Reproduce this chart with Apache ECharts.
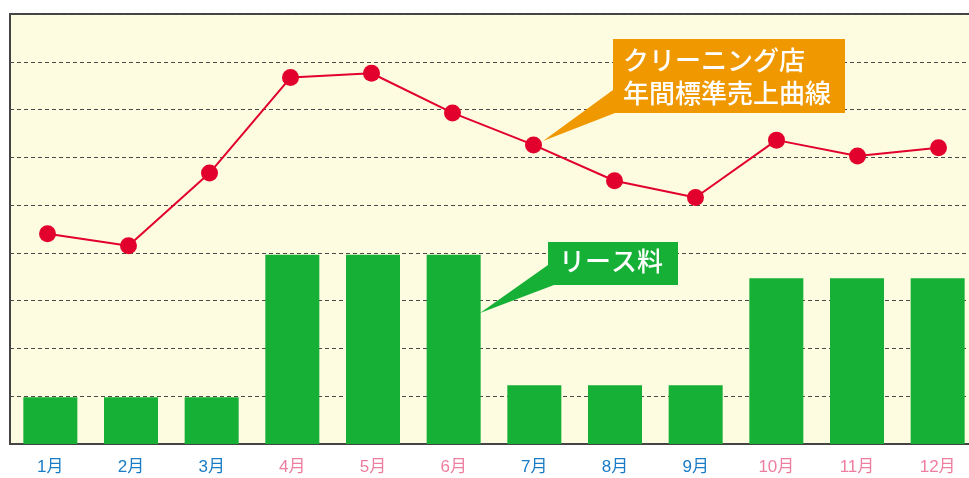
<!DOCTYPE html>
<html>
<head>
<meta charset="utf-8">
<script src="https://cdn.jsdelivr.net/npm/echarts@6/dist/echarts.min.js"></script>
<style>
html,body{margin:0;padding:0;background:#fff;overflow:hidden;}
#c{width:969px;height:478px;}
</style>
</head>
<body>
<div id="c"></div>
<script>
const months = ['1月','2月','3月','4月','5月','6月','7月','8月','9月','10月','11月','12月'];
const leaseFee = [0.98, 0.98, 0.98, 3.96, 3.96, 3.96, 1.23, 1.23, 1.23, 3.47, 3.47, 3.47];
const standardSales = [4.40, 4.15, 5.67, 7.67, 7.76, 6.93, 6.26, 5.51, 5.16, 6.36, 6.03, 6.20];
const labelColors = ['#1a7cc4','#1a7cc4','#1a7cc4','#ee7ea0','#ee7ea0','#ee7ea0','#1a7cc4','#1a7cc4','#1a7cc4','#ee7ea0','#ee7ea0','#ee7ea0'];
const salesLabel = ['クリーニング店', '年間標準売上曲線'];
const leaseLabel = 'リース料';

const FONT = '"Noto Sans CJK JP", "Noto Sans", sans-serif';
const LABEL_FONT = '"Liberation Sans", "Noto Sans CJK JP", sans-serif';
const chart = echarts.init(document.getElementById('c'), null, {renderer: 'canvas'});

const rich = {};
labelColors.forEach((c, i) => { rich['c' + i] = {color: c, fontSize: 17, fontFamily: LABEL_FONT}; });

chart.setOption({
  animation: false,
  backgroundColor: '#ffffff',
  grid: [
    {left: 10, top: 14, right: -9, height: 430, show: true, backgroundColor: '#fdfbe0', borderColor: '#444', borderWidth: 2, containLabel: false, outerBoundsMode: 'none'},
    {left: 7, top: 14, right: -10, height: 430, show: false, containLabel: false, outerBoundsMode: 'none'}
  ],
  xAxis: [
    {type: 'category', gridIndex: 0, data: months, boundaryGap: true,
     axisLine: {show: true, lineStyle: {color: '#444', width: 2}},
     axisTick: {show: false},
     axisLabel: {interval: 0, margin: 15, fontSize: 17, fontFamily: LABEL_FONT,
       formatter: (v, i) => '{c' + i + '|' + v + '}', rich: rich}},
    {type: 'category', gridIndex: 1, data: months, boundaryGap: true, show: false}
  ],
  yAxis: [
    {type: 'value', gridIndex: 0, min: 0, max: 9, interval: 1,
     axisLine: {show: false}, axisTick: {show: false}, axisLabel: {show: false},
     splitLine: {show: true, lineStyle: {color: '#4a4a4a', type: [4, 3], width: 1}}},
    {type: 'value', gridIndex: 1, min: 0, max: 9, interval: 1, show: false,
     splitLine: {show: false}}
  ],
  series: [
    {type: 'bar', xAxisIndex: 0, yAxisIndex: 0, data: leaseFee, barWidth: 54,
     itemStyle: {color: '#15b035'}},
    {type: 'line', xAxisIndex: 1, yAxisIndex: 1, data: standardSales,
     symbol: 'circle', symbolSize: 17,
     lineStyle: {color: '#e2002d', width: 2},
     itemStyle: {color: '#e2002d'}, z: 5}
  ],
  graphic: [
    {type: 'polygon', z: 10,
     shape: {points: [[613,39],[845,39],[845,113],[615,113],[543,141],[613,90]]},
     style: {fill: '#f09800'}},
    {type: 'text', z: 11, left: 623, top: 44,
     style: {text: salesLabel.join('\n'), fill: '#ffffff', font: '500 26px ' + FONT, lineHeight: 33}},
    {type: 'polygon', z: 10,
     shape: {points: [[548,242],[678,242],[678,285],[554,285],[480,313],[548,265]]},
     style: {fill: '#15b035'}},
    {type: 'text', z: 11, left: 559, top: 248,
     style: {text: leaseLabel, fill: '#ffffff', font: '500 26px ' + FONT}}
  ]
});
</script>
</body>
</html>
